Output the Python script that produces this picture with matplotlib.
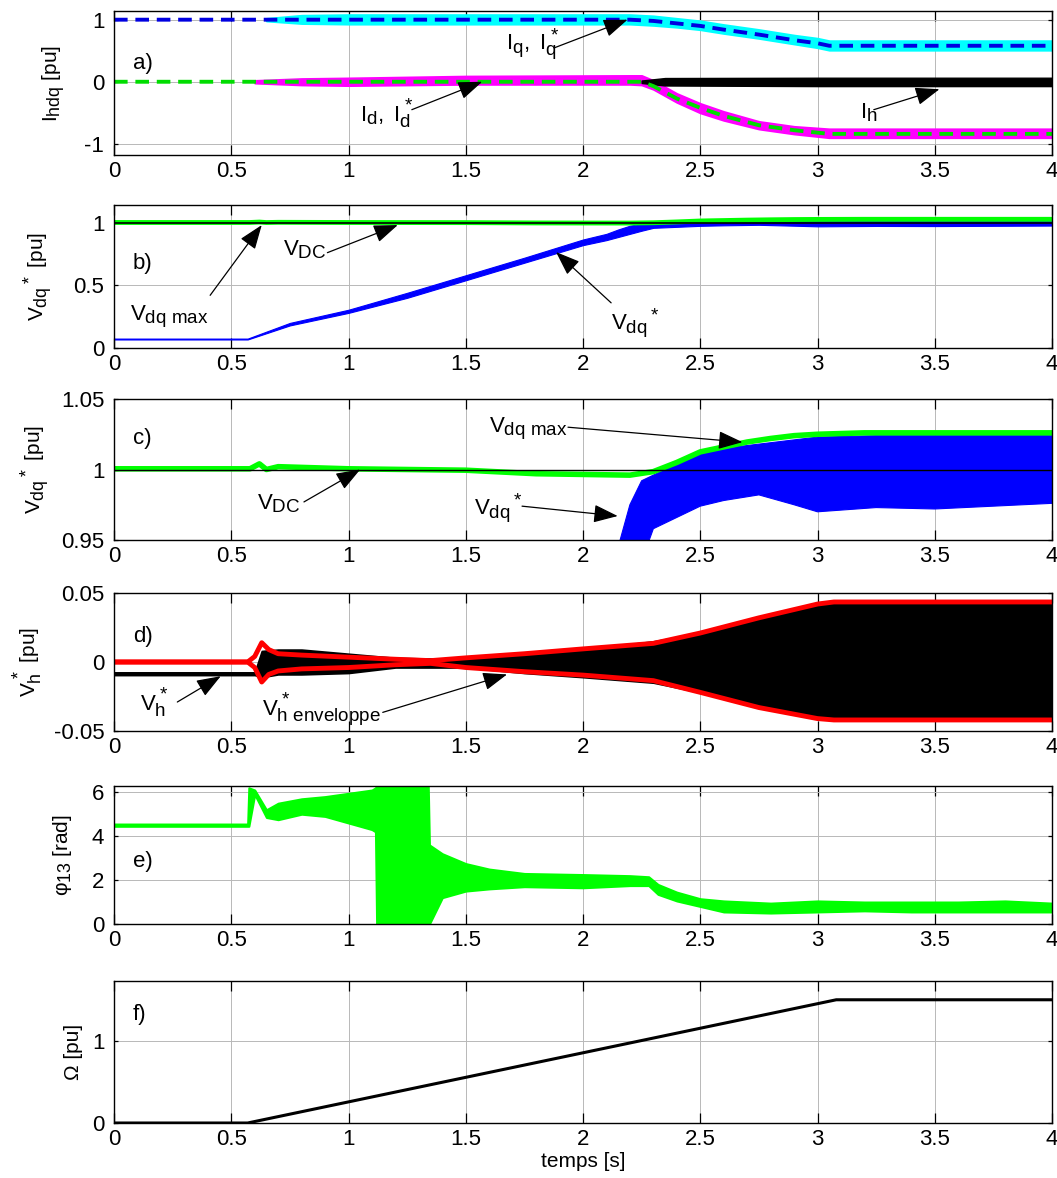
#!/usr/bin/env python3
"""
Courbes de simulation a) - f) : courants, tensions, phase et vitesse
"""

import matplotlib
matplotlib.use('Agg')
import matplotlib.pyplot as plt
import matplotlib._mathtext as _mt
from matplotlib.ticker import FormatStrFormatter

plt.rcParams['font.family'] = ['Liberation Sans', 'DejaVu Sans']
plt.rcParams['font.size'] = 14
plt.rcParams['mathtext.fontset'] = 'custom'
plt.rcParams['mathtext.rm'] = 'Liberation Sans'
plt.rcParams['mathtext.it'] = 'Liberation Sans'
plt.rcParams['mathtext.bf'] = 'Liberation Sans:bold'
plt.rcParams['axes.unicode_minus'] = False
# indices plus grands, comme dans MATLAB
_mt.SHRINK_FACTOR = 0.85

# ---- a) courants ----
t_iq_ref = [0, 2.2, 2.3, 2.4, 2.5, 2.6, 2.75, 2.9, 3.0, 3.05, 4.0]
iq_ref = [1.0, 1.0, 0.98, 0.94, 0.9, 0.84, 0.76, 0.67, 0.62, 0.58, 0.58]
t_iq = [0.65, 0.8, 1.0, 2.2, 2.3, 2.4, 2.5, 2.6, 2.75, 2.9, 3.0, 3.05, 4.0]
iq_hi = [1.02, 1.07, 1.08, 1.08, 1.06, 1.02, 0.98, 0.92, 0.84, 0.75, 0.7, 0.66, 0.66]
iq_lo = [0.98, 0.94, 0.93, 0.93, 0.91, 0.88, 0.84, 0.78, 0.70, 0.61, 0.55, 0.51, 0.51]

t_id_ref = [0, 2.25, 2.3, 2.4, 2.5, 2.6, 2.75, 2.9, 3.05, 4.0]
id_ref = [0, 0, -0.07, -0.27, -0.42, -0.55, -0.7, -0.78, -0.84, -0.84]
t_id = [0.6, 0.8, 1.0, 1.5, 2.2, 2.25, 2.3, 2.4, 2.5, 2.6, 2.75, 2.9, 3.05, 4.0]
id_hi = [0.02, 0.05, 0.06, 0.09, 0.1, 0.1, 0.02, -0.19, -0.35, -0.48, -0.64, -0.72, -0.76, -0.76]
id_lo = [-0.02, -0.05, -0.06, -0.04, -0.04, -0.05, -0.12, -0.33, -0.5, -0.62, -0.76, -0.84, -0.9, -0.9]

t_ih = [2.25, 2.35, 3.0, 4.0]
ih_hi = [0.02, 0.06, 0.065, 0.065]
ih_lo = [-0.02, -0.06, -0.07, -0.07]

# ---- b) / c) tensions ----
t_vdc = [0, 4.0]
vdc = [1.0, 1.0]
t_vmax = [0, 0.58, 0.62, 0.65, 0.7, 1.0, 1.5, 1.8, 2.0, 2.2, 2.3, 2.4, 2.5,
          2.6, 2.7, 2.8, 2.9, 3.0, 3.2, 4.0]
vmax = [1.0005, 1.0005, 1.004, 1.0, 1.002, 1.0005, 0.9995, 0.997, 0.9965, 0.996,
        0.9985, 1.005, 1.0125, 1.016, 1.0195, 1.022, 1.024, 1.025, 1.026, 1.026]
t_vdq = [0, 0.57, 0.75, 1.0, 1.25, 1.5, 1.75, 2.0, 2.1, 2.15, 2.2, 2.25, 2.3,
         2.35, 2.4, 2.5, 2.6, 2.75, 2.9, 3.0, 3.25, 3.5, 3.75, 4.0]
vdq_hi = [0.075, 0.075, 0.2, 0.305, 0.44, 0.58, 0.72, 0.865, 0.91, 0.945, 0.975, 0.992,
          0.996, 1.0, 1.004, 1.011, 1.015, 1.018, 1.021, 1.023, 1.024, 1.024, 1.024, 1.024]
vdq_lo = [0.068, 0.068, 0.18, 0.28, 0.40, 0.54, 0.68, 0.82, 0.86, 0.885, 0.91, 0.935,
          0.958, 0.962, 0.966, 0.974, 0.978, 0.982, 0.975, 0.97, 0.973, 0.972, 0.974, 0.976]

# ---- d) tension homopolaire ----
t_env = [0, 0.57, 0.6, 0.63, 0.66, 0.7, 0.8, 1.0, 1.2, 1.35, 1.5, 1.75, 2.0,
         2.3, 2.5, 2.75, 3.0, 3.07, 4.0]
env_hi = [0, 0, 0.004, 0.014, 0.009, 0.006, 0.005, 0.0035, 0.002, 0.001, 0.003,
          0.006, 0.0095, 0.0135, 0.021, 0.032, 0.042, 0.0435, 0.0435]
env_lo = [0, 0, -0.004, -0.0145, -0.009, -0.0065, -0.005, -0.004, -0.002, -0.001,
          -0.004, -0.007, -0.0095, -0.0135, -0.022, -0.033, -0.041, -0.042, -0.042]
t_vh = [0, 0.6, 0.63, 0.7, 0.8, 1.0, 1.2, 1.5, 1.75, 2.0, 2.3, 2.5, 2.75, 3.0, 3.07, 4.0]
vh_hi = [-0.0075, -0.0075, 0.008, 0.009, 0.009, 0.006, 0.003, 0.002, 0.005, 0.009,
         0.015, 0.021, 0.032, 0.042, 0.043, 0.043]
vh_lo = [-0.0095, -0.0095, -0.011, -0.009, -0.009, -0.008, -0.004, -0.004, -0.008,
         -0.011, -0.015, -0.022, -0.033, -0.041, -0.041, -0.041]

# ---- e) phase ----
t_phi = [0, 0.57, 0.575, 0.6, 0.65, 0.7, 0.8, 0.9, 1.0, 1.1, 1.115, 1.12, 1.34,
         1.345, 1.4, 1.5, 1.6, 1.75, 2.0, 2.2, 2.28, 2.32, 2.4, 2.5, 2.6, 2.8,
         3.0, 3.2, 3.4, 3.6, 3.8, 4.0]
phi_hi = [4.55, 4.55, 6.2, 6.1, 5.2, 5.5, 5.7, 5.8, 5.95, 6.1, 6.2, 6.283, 6.283,
          3.6, 3.2, 2.75, 2.5, 2.3, 2.25, 2.2, 2.15, 1.8, 1.45, 1.15, 1.05, 0.95,
          1.05, 1.0, 1.0, 1.0, 1.05, 0.95]
phi_lo = [4.45, 4.45, 4.45, 5.9, 4.85, 4.75, 5.0, 4.9, 4.6, 4.3, 4.2, 0, 0, 0,
          1.2, 1.5, 1.6, 1.7, 1.65, 1.75, 1.75, 1.35, 1.05, 0.8, 0.55, 0.5, 0.55,
          0.6, 0.55, 0.55, 0.55, 0.55]

# ---- f) vitesse ----
t_omega = [0, 0.57, 3.08, 4.0]
omega = [0, 0, 1.51, 1.51]

x_ticks = [0, 0.5, 1, 1.5, 2, 2.5, 3, 3.5, 4]

W, H = 1057, 1178
TXT = 16
fig = plt.figure(figsize=(W / 100, H / 100), dpi=100)


def make_ax(top, bottom, ylim, yticks, ylabel, label_x):
    ax = fig.add_axes([114 / W, 1 - bottom / H, 938 / W, (bottom - top) / H])
    ax.set_xlim(0, 4)
    ax.set_ylim(*ylim)
    ax.set_xticks(x_ticks)
    ax.set_yticks(yticks)
    ax.xaxis.set_major_formatter(FormatStrFormatter('%g'))
    ax.yaxis.set_major_formatter(FormatStrFormatter('%g'))
    ax.grid(True, color='0.72', lw=0.7)
    ax.set_axisbelow(True)
    ax.tick_params(axis='x', direction='in', top=True, length=7, width=0.9,
                   labelsize=16, pad=4)
    ax.tick_params(axis='y', direction='in', right=True, length=3, width=0.9,
                   labelsize=16, pad=7)
    for s in ax.spines.values():
        s.set_linewidth(1.0)
    ax.set_ylabel(ylabel, fontsize=15)
    ax.yaxis.set_label_coords(label_x, 0.5)
    return ax


def arrow(ax, tip, tail):
    ax.annotate('', xy=tip, xytext=tail,
                arrowprops=dict(arrowstyle='-|>,head_length=0.75,head_width=0.28',
                                color='k', lw=0.9, shrinkA=0, shrinkB=0,
                                mutation_scale=20))


# a)
ax = make_ax(11, 155, (-1.18, 1.14), [-1, 0, 1], r'$I_{hdq}$ [pu]', -0.050)
ax.fill_between(t_id, id_lo, id_hi, color='#ff00ff', lw=1.5, edgecolor='#ff00ff')
ax.fill_between(t_iq, iq_lo, iq_hi, color='#00ffff', lw=1.5, edgecolor='#00ffff')
ax.fill_between(t_ih, ih_lo, ih_hi, color='k', lw=1.0, edgecolor='k')
ax.plot(t_id_ref, id_ref, color='#00dd00', lw=2.8, ls=(0, (3.5, 2)))
ax.plot(t_iq_ref, iq_ref, color='#0000e0', lw=2.8, ls=(0, (3.5, 2)))
ax.text(0.08, 0.3, 'a)', va='center', fontsize=TXT)
ax.text(1.67, 0.6, r'$I_q,\ I_q^*$', va='center', fontsize=TXT)
arrow(ax, (2.19, 1.0), (1.88, 0.55))
ax.text(1.05, -0.5, r'$I_d,\ I_d^*$', va='center', fontsize=TXT)
arrow(ax, (1.57, 0.0), (1.27, -0.45))
ax.text(3.18, -0.5, r'$I_h$', va='center', fontsize=TXT)
arrow(ax, (3.52, -0.12), (3.24, -0.45))

# b)
ax = make_ax(205, 348, (0, 1.14), [0, 0.5, 1], r'$V_{dq}$$^*$ [pu]', -0.063)
ax.plot(t_vmax, vmax, color='#00ff00', lw=3.5)
ax.plot(t_vdc, vdc, color='k', lw=1.2)
ax.fill_between(t_vdq, vdq_lo, vdq_hi, color='#0000ff', lw=0.8, edgecolor='#0000ff')
ax.text(0.08, 0.67, 'b)', va='center', fontsize=TXT)
ax.text(0.72, 0.78, r'$V_{DC}$', va='center', fontsize=TXT)
arrow(ax, (1.21, 0.98), (0.91, 0.76))
ax.text(0.07, 0.25, r'$V_{dq\ max}$', va='center', fontsize=TXT)
arrow(ax, (0.63, 0.98), (0.41, 0.42))
ax.text(2.12, 0.2, r'$V_{dq}$$^*$', va='center', fontsize=TXT)
arrow(ax, (1.885, 0.765), (2.12, 0.36))

# c)
ax = make_ax(399, 540, (0.95, 1.05), [0.95, 1, 1.05], r'$V_{dq}$$^*$ [pu]', -0.066)
ax.plot(t_vmax, vmax, color='#00ff00', lw=4)
ax.fill_between(t_vdq, vdq_lo, vdq_hi, color='#0000ff', lw=0.8, edgecolor='#0000ff')
ax.plot(t_vdc, vdc, color='k', lw=1.0)
ax.text(0.08, 1.022, 'c)', va='center', fontsize=TXT)
ax.text(0.61, 0.976, r'$V_{DC}$', va='center', fontsize=TXT)
arrow(ax, (1.05, 1.0), (0.81, 0.977))
ax.text(1.535, 0.973, r'$V_{dq}$$^*$', va='center', fontsize=TXT)
arrow(ax, (2.148, 0.967), (1.74, 0.974))
ax.text(1.6, 1.029, r'$V_{dq\ max}$', va='center', fontsize=TXT)
arrow(ax, (2.68, 1.0194), (1.936, 1.030))

# d)
ax = make_ax(593, 731, (-0.05, 0.05), [-0.05, 0, 0.05], r'$V_h^*$ [pu]', -0.074)
ax.fill_between(t_vh, vh_lo, vh_hi, color='k', lw=1.2, edgecolor='k')
ax.plot(t_env, env_hi, color='#ff0000', lw=3.5)
ax.plot(t_env, env_lo, color='#ff0000', lw=3.5)
ax.text(0.08, 0.0185, 'd)', va='center', fontsize=TXT)
ax.text(0.11, -0.029, r'$V_h^*$', va='center', fontsize=TXT)
arrow(ax, (0.455, -0.0103), (0.27, -0.029))
ax.text(0.63, -0.034, r'$V_{h\ enveloppe}^*$', va='center', fontsize=TXT)
arrow(ax, (1.676, -0.009), (1.146, -0.0365))

# e)
ax = make_ax(786, 924, (0, 6.2832), [0, 2, 4, 6], r'$φ_{13}$ [rad]', -0.043)
ax.fill_between(t_phi, phi_lo, phi_hi, color='#00ff00', lw=1.5, edgecolor='#00ff00')
ax.text(0.08, 2.85, 'e)', va='center', fontsize=TXT)

# f)
ax = make_ax(981, 1123, (0, 1.74), [0, 1], 'Ω [pu]', -0.033)
ax.plot(t_omega, omega, color='k', lw=2.2)
ax.text(0.08, 1.33, 'f)', va='center', fontsize=TXT)
ax.set_xlabel('temps [s]', fontsize=15, labelpad=2)

fig.savefig('out.png', dpi=100)
